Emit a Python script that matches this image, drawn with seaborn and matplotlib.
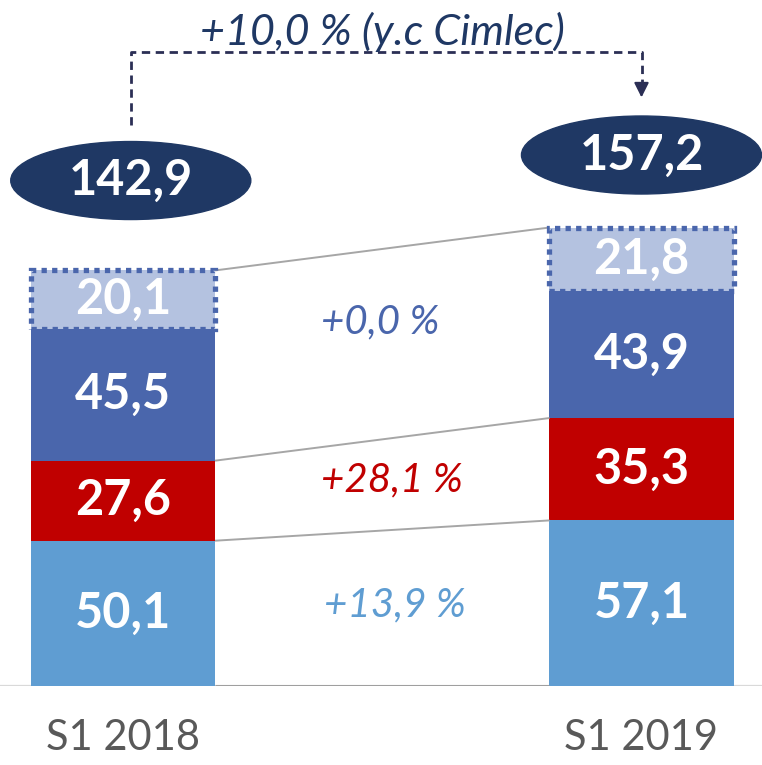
"""Stacked revenue bars S1 2018 vs S1 2019."""
import matplotlib.pyplot as plt
from matplotlib.patches import Ellipse
import numpy as np
import pandas as pd
import seaborn as sns

periods = ['S1 2018', 'S1 2019']
seg_light = [50.1, 57.1]
seg_red = [27.6, 35.3]
seg_blue = [45.5, 43.9]
seg_pale = [20.1, 21.8]
totals = [142.9, 157.2]
growth_labels = ['+13,9 %', '+28,1 %', '+0,0 %']
total_growth = '+10,0 % (y.c Cimlec)'

colors = ['#5f9dd2', '#c00000', '#4a66ac', '#b4c2e0']
navy = '#1f3864'


def fmt(v):
    return f"{v:.1f}".replace('.', ',')


sns.set_theme(style='white')
plt.rcParams['font.family'] = ['Lato', 'DejaVu Sans']

segments = np.array([seg_light, seg_red, seg_blue, seg_pale])
cum = segments.cumsum(axis=0)
bottoms = cum - segments

fig = plt.figure(figsize=(7.62, 7.65), dpi=100)
ax = fig.add_axes([0, 79 / 765, 1, 686 / 765])
bar_w = 0.355

# tallest first so the shorter layers sit on top
for i in range(3, -1, -1):
    df = pd.DataFrame({'period': periods, 'value': cum[i]})
    sns.barplot(data=df, x='period', y='value', color=colors[i], width=bar_w,
                saturation=1, linewidth=0, ax=ax)

x = np.arange(len(periods))
ax.bar(x, segments[3], bottom=bottoms[3], width=bar_w, fill=False,
       edgecolor='#4a66ac', linestyle=(0, (1, 1)), linewidth=3.8, zorder=4)

for i in range(4):
    for j in range(len(periods)):
        ax.text(x[j], bottoms[i, j] + segments[i, j] / 2, fmt(segments[i, j]),
                ha='center', va='center', color='white', fontsize=35,
                fontweight='bold', zorder=5)

# connector lines between the bars
half = bar_w / 2
for level in [None, 0, 1, 3]:
    y0 = 0 if level is None else cum[level, 0]
    y1 = 0 if level is None else cum[level, 1]
    ax.plot([x[0] + half, x[1] - half], [y0, y1],
            color='#999999' if level is None else '#a6a6a6',
            lw=2 if level is None else 1.4, zorder=3, solid_capstyle='butt')

# growth labels
growth_colors = ['#5f9dd2', '#c00000', '#4a66ac']
growth_pos = [(0.525, 28), (0.519, 71), (0.496, 125.5)]
for lab, c, (gx, gy) in zip(growth_labels, growth_colors, growth_pos):
    ax.text(gx, gy, lab, ha='center', va='center', color=c, fontsize=29,
            style='italic')

# total ellipses
ell_off = [31, 25]
ell_dx = [0.015, 0.0]
for j in range(len(periods)):
    cy = cum[3, j] + ell_off[j]
    ax.add_patch(Ellipse((x[j] + ell_dx[j], cy), 0.463, 26.9, color=navy,
                         zorder=5, clip_on=False))
    ax.text(x[j] + ell_dx[j], cy, fmt(totals[j]), ha='center', va='center',
            color='white', fontsize=35, fontweight='bold', zorder=6)

# dashed bracket arrow
ax.plot([0.015, 0.015, 1.0, 1.0], [193.4, 218.6, 218.6, 206], color='#2b2f55',
        lw=2, ls=(0, (3, 2)), zorder=3)
ax.annotate('', xy=(1.0, 202), xytext=(1.0, 208),
            arrowprops=dict(arrowstyle='-|>', color='#2b2f55', lw=1.5,
                            mutation_scale=22))
ax.text(0.5, 225.5, total_growth, ha='center', va='center', color=navy,
        fontsize=31, style='italic')

ax.axhline(0, color='#d9d9d9', lw=1.6, zorder=0)
ax.set_xlim(-123 / 518.5, (762 - 123) / 518.5)
ax.set_ylim(0, 686 / 2.9)
ax.set_xlabel('')
ax.set_ylabel('')
ax.set_yticks([])
ax.tick_params(axis='x', length=0, pad=24, labelsize=30, labelcolor='#595959')
for s in ax.spines.values():
    s.set_visible(False)

fig.savefig('out.png', dpi=100)
plt.close(fig)
